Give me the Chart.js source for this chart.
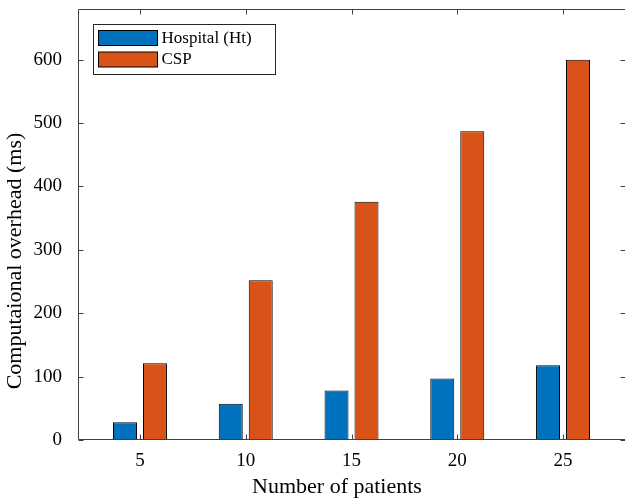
<!DOCTYPE html>
<html>
<head>
<meta charset="utf-8">
<script src="https://cdn.jsdelivr.net/npm/chart.js@4/dist/chart.umd.min.js"></script>
<style>
html,body{margin:0;padding:0;background:#fff;}
#wrap{width:625px;height:499px;}
</style>
</head>
<body>
<div id="wrap"><canvas id="c" width="625" height="499"></canvas></div>
<script>
const patients = [5, 10, 15, 20, 25];
const hospitalHt = [28, 57, 78, 97, 118];
const csp = [121, 252, 376, 487, 600];
const seriesNames = ['Hospital (Ht)', 'CSP'];
const yTicks = [0, 100, 200, 300, 400, 500, 600];
const xTicks = [5, 10, 15, 20, 25];
const xTitle = 'Number of patients';
const yTitle = 'Computaional overhead (ms)';

const FONT = '"Liberation Serif", "Times New Roman", serif';
const AXIS_COLOR = '#404040';

const boxPlugin = {
  id: 'matlabBox',
  afterDatasetsDraw(chart) {
    const {ctx, chartArea: a, scales} = chart;
    ctx.save();
    ctx.strokeStyle = AXIS_COLOR;
    ctx.lineWidth = 1;
    const L = Math.round(a.left) + 0.5, R = Math.round(a.right) + 0.5;
    const T = Math.round(a.top) + 0.5, B = Math.round(a.bottom) - 0.5;
    ctx.beginPath();
    ctx.rect(L, T, R - L, B - T);
    ctx.stroke();
    const tl = 5;
    ctx.beginPath();
    scales.x.ticks.forEach(t => {
      const px = Math.round(scales.x.getPixelForValue(t.value)) + 0.5;
      ctx.moveTo(px, B); ctx.lineTo(px, B - tl);
      ctx.moveTo(px, T); ctx.lineTo(px, T + tl);
    });
    scales.y.ticks.forEach(t => {
      const py = Math.round(scales.y.getPixelForValue(t.value)) + 0.5;
      ctx.moveTo(L, py); ctx.lineTo(L + tl, py);
      ctx.moveTo(R, py); ctx.lineTo(R - tl, py);
    });
    ctx.stroke();

    // legend
    const lx = L + 15, ly = T + 15, lw = 182, lh = 50;
    ctx.fillStyle = '#fff';
    ctx.fillRect(lx, ly, lw, lh);
    ctx.strokeStyle = '#262626';
    ctx.strokeRect(lx, ly, lw, lh);
    ctx.font = '17px ' + FONT;
    ctx.textBaseline = 'middle';
    chart.data.datasets.forEach((ds, i) => {
      const sy = ly + 6 + i * 21.5;
      ctx.fillStyle = ds.backgroundColor;
      ctx.fillRect(lx + 5, sy, 59, 15);
      ctx.strokeStyle = '#000';
      ctx.strokeRect(lx + 5, sy, 59, 15);
      ctx.fillStyle = '#000';
      ctx.fillText(ds.label, lx + 68, sy + 8);
    });

    // axis titles
    ctx.fillStyle = '#000';
    ctx.font = '22px ' + FONT;
    ctx.textAlign = 'center';
    ctx.textBaseline = 'alphabetic';
    ctx.fillText(xTitle, 337, 493);
    ctx.translate(21, 261);
    ctx.rotate(-Math.PI / 2);
    ctx.fillText(yTitle, 0, 0);
    ctx.restore();
  }
};

new Chart(document.getElementById('c'), {
  type: 'bar',
  data: {
    datasets: [
      {
        label: seriesNames[0],
        data: patients.map((p, i) => ({x: p, y: hospitalHt[i]})),
        backgroundColor: '#0072BD',
        borderColor: '#000',
        borderWidth: 1,
        categoryPercentage: 0.567,
        barPercentage: 0.8
      },
      {
        label: seriesNames[1],
        data: patients.map((p, i) => ({x: p, y: csp[i]})),
        backgroundColor: '#D95319',
        borderColor: '#000',
        borderWidth: 1,
        categoryPercentage: 0.567,
        barPercentage: 0.8
      }
    ]
  },
  options: {
    responsive: false,
    devicePixelRatio: 1,
    animation: false,
    layout: {padding: {top: 9, right: 0, left: 0, bottom: 0}},
    plugins: {legend: {display: false}, tooltip: {enabled: false}},
    scales: {
      x: {
        type: 'linear',
        offset: false,
        min: 2.07,
        max: 27.93,
        afterBuildTicks: s => { s.ticks = xTicks.map(v => ({value: v})); },
        afterFit: s => { s.height = 59; s.paddingLeft = 0; s.paddingRight = 0; },
        grid: {display: false, drawTicks: false, offset: false},
        border: {display: false},
        ticks: {color: '#000', font: {family: FONT, size: 19}, padding: 10, maxRotation: 0, autoSkip: false},
        title: {display: false}
      },
      y: {
        min: 0,
        max: 680,
        afterBuildTicks: s => { s.ticks = yTicks.map(v => ({value: v})); },
        afterFit: s => { s.width = 78; s.paddingTop = 0; s.paddingBottom = 0; },
        grid: {display: false, drawTicks: false},
        border: {display: false},
        ticks: {color: '#000', font: {family: FONT, size: 19}, padding: 16, autoSkip: false},
        title: {display: false}
      }
    }
  },
  plugins: [boxPlugin]
});
</script>
</body>
</html>
